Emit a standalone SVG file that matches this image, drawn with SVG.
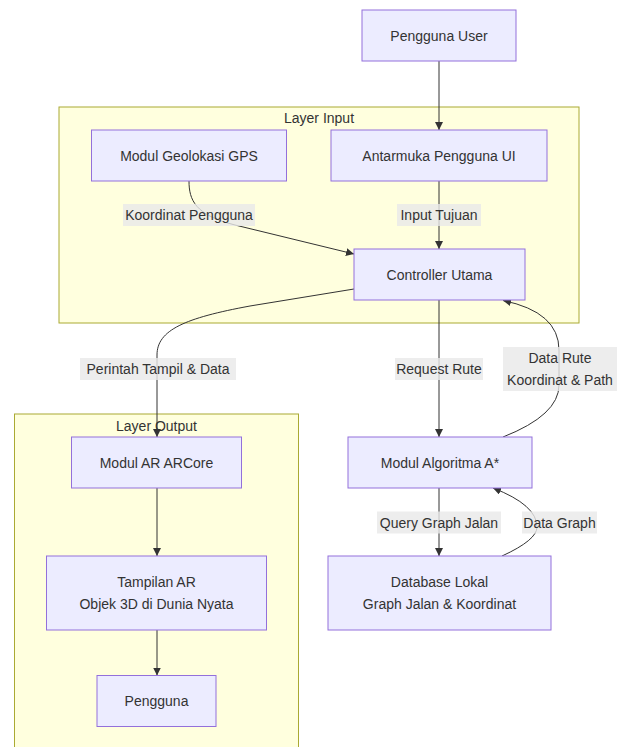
<svg xmlns="http://www.w3.org/2000/svg" width="623" height="747" viewBox="0 0 623 747">
<defs>
<style>
.cluster{fill:#ffffde;stroke:#aaaa33;stroke-width:1}
.node rect{fill:#ECECFF;stroke:#9370DB;stroke-width:1}
text{font-family:"trebuchet ms","Liberation Sans",Arial,sans-serif;font-size:14px;fill:#333;text-anchor:middle;dominant-baseline:central}
.edge{fill:none;stroke:#333;stroke-width:1}
.lbl{fill:rgba(232,232,232,0.8)}
</style>
<marker id="arrow" viewBox="0 0 10 10" refX="10" refY="5" markerUnits="userSpaceOnUse" markerWidth="8" markerHeight="8" orient="auto">
<path d="M0,0 L10,5 L0,10 z" fill="#333"/>
</marker>
</defs>
<rect width="623" height="747" fill="#ffffff"/>
<g id="cluster-input">
<rect class="cluster" x="59" y="107" width="520" height="216"/>
<text x="319" y="118">Layer Input</text>
</g>
<g id="cluster-output">
<rect class="cluster" x="14.5" y="414" width="284" height="345"/>
<text x="156.5" y="425.5">Layer Output</text>
</g>
<g id="connectors">
<path class="edge" d="M439,61 L439,130" marker-end="url(#arrow)"/>
<path class="edge" d="M189,181 C189,200 195,215 235,225 L354,254" marker-end="url(#arrow)"/>
<path class="edge" d="M439,181 L439,249" marker-end="url(#arrow)"/>
<path class="edge" d="M354,289 L250,306 C185,318 157,330 157,355 L157,437" marker-end="url(#arrow)"/>
<path class="edge" d="M439,300 L439,437" marker-end="url(#arrow)"/>
<path class="edge" d="M503,437 Q559,415 559,385 L559,350 Q559,312 503,300.5" marker-end="url(#arrow)"/>
<path class="edge" d="M439,488 L439,556" marker-end="url(#arrow)"/>
<path class="edge" d="M502,556 Q537,540 537,527 Q537,505 493,488" marker-end="url(#arrow)"/>
<path class="edge" d="M157,488 L157,556" marker-end="url(#arrow)"/>
<path class="edge" d="M157,630 L157,675.5" marker-end="url(#arrow)"/>
<rect class="lbl" x="123" y="204" width="132" height="22"/>
<text x="189" y="215">Koordinat Pengguna</text>
<rect class="lbl" x="397" y="204" width="84" height="22"/>
<text x="439" y="215">Input Tujuan</text>
<rect class="lbl" x="80" y="358" width="156" height="22"/>
<text x="158" y="369">Perintah Tampil &amp; Data</text>
<rect class="lbl" x="395" y="358" width="88" height="22"/>
<text x="439" y="369">Request Rute</text>
<rect class="lbl" x="503" y="347" width="114" height="44"/>
<text x="560" y="358">Data Rute</text>
<text x="560" y="380">Koordinat &amp; Path</text>
<rect class="lbl" x="377" y="511.5" width="124" height="22"/>
<text x="439" y="522.5">Query Graph Jalan</text>
<rect class="lbl" x="522" y="511.5" width="75" height="22"/>
<text x="559.5" y="522.5">Data Graph</text>
</g>
<g id="node-user" class="node">
<rect x="362" y="10" width="154" height="51"/>
<text x="439" y="35.5">Pengguna User</text>
</g>
<g id="node-gps" class="node">
<rect x="91.5" y="130" width="195" height="51"/>
<text x="189" y="155.5">Modul Geolokasi GPS</text>
</g>
<g id="node-ui" class="node">
<rect x="331" y="130" width="216" height="51"/>
<text x="439" y="155.5">Antarmuka Pengguna UI</text>
</g>
<g id="node-controller" class="node">
<rect x="354" y="249" width="171" height="51"/>
<text x="439.5" y="274.5">Controller Utama</text>
</g>
<g id="node-arcore" class="node">
<rect x="71.5" y="437" width="170" height="51"/>
<text x="156.5" y="462.5">Modul AR ARCore</text>
</g>
<g id="node-astar" class="node">
<rect x="348" y="437" width="184" height="51"/>
<text x="440" y="462.5">Modul Algoritma A*</text>
</g>
<g id="node-tampilan" class="node">
<rect x="46.5" y="556" width="220" height="74"/>
<text x="156.5" y="582">Tampilan AR</text>
<text x="156.5" y="604">Objek 3D di Dunia Nyata</text>
</g>
<g id="node-db" class="node">
<rect x="328" y="556" width="223" height="74"/>
<text x="439.5" y="582">Database Lokal</text>
<text x="439.5" y="604">Graph Jalan &amp; Koordinat</text>
</g>
<g id="node-pengguna" class="node">
<rect x="97" y="675.5" width="119" height="51"/>
<text x="156.5" y="701">Pengguna</text>
</g>
</svg>
